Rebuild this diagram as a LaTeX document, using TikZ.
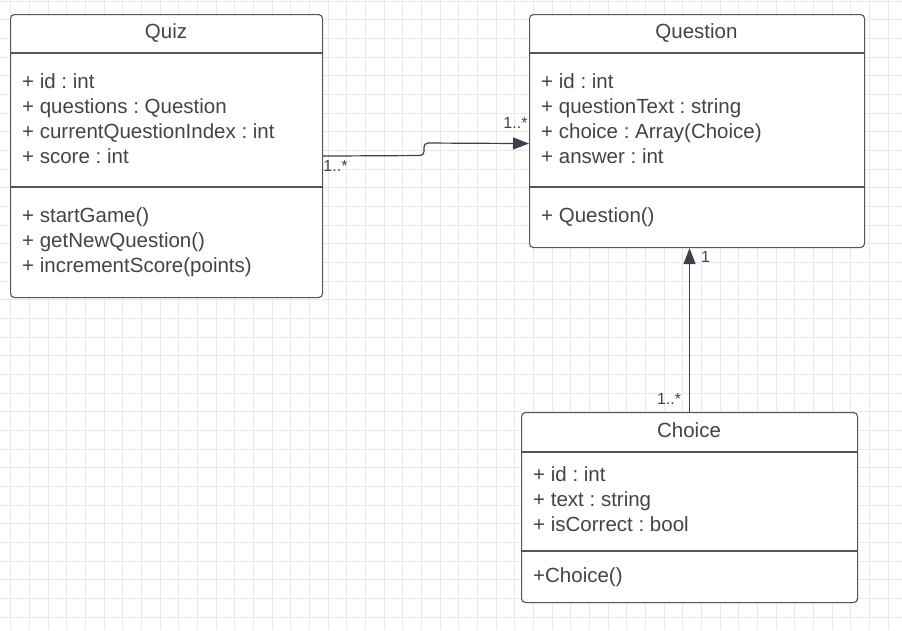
\documentclass[tikz,border=0pt]{standalone}
\usepackage{fontspec}
\setmainfont{Liberation Sans}
\frenchspacing
\usetikzlibrary{arrows.meta}
\definecolor{gridc}{HTML}{E8E8E8}
\definecolor{linec}{HTML}{50565E}
\definecolor{txtc}{HTML}{444444}
\definecolor{arrc}{HTML}{3A414A}
\begin{document}
\begin{tikzpicture}[x=1pt,y=-1pt,
  umlbox/.style={draw=linec, line width=1.1pt, rounded corners=4pt, fill=white, anchor=north west, inner sep=0pt},
  mem/.style={anchor=base west, inner sep=0pt, text=txtc, font=\fontsize{20.5}{25}\selectfont},
  ttl/.style={anchor=base, inner sep=0pt, text=txtc, font=\fontsize{20.5}{25}\selectfont},
  mult/.style={anchor=center, inner sep=0pt, text=txtc, font=\fontsize{16}{18}\selectfont},
  divider/.style={draw=linec, line width=1.1pt},
  assoc/.style={draw=arrc, line width=1.2pt, -{Triangle[length=16pt,width=12pt]}}
]
\useasboundingbox (0,0) rectangle (902,630);
\fill[white] (0,0) rectangle (902,630);
% grid
\foreach \i in {0,...,48} {
  \draw[gridc, line width=0.8pt] ({10.7+\i*18.67},0) -- ({10.7+\i*18.67},630);
}
\foreach \j in {0,...,33} {
  \draw[gridc, line width=0.8pt] (0,{1+\j*18.67}) -- (902,{1+\j*18.67});
}

% Quiz
\node[umlbox, minimum width=312pt, minimum height=283pt] (quiz) at (10,14) {};
\draw[divider] (10,53) -- (322,53);
\draw[divider] (10,187) -- (322,187);
\node[ttl] (quizt) at (166,38.5) {Quiz};
\node[mem] (q1) at (22,88) {+ id : int};
\node[mem] (q2) at (22,113) {+ questions : Question};
\node[mem] (q3) at (22,138) {+ currentQuestionIndex : int};
\node[mem] (q4) at (22,163) {+ score : int};
\node[mem] (q5) at (22,222) {+ startGame()};
\node[mem] (q6) at (22,247) {+ getNewQuestion()};
\node[mem] (q7) at (22,272) {+ incrementScore(points)};

% Question
\node[umlbox, minimum width=335pt, minimum height=233pt] (question) at (529,14) {};
\draw[divider] (529,53) -- (864,53);
\draw[divider] (529,187) -- (864,187);
\node[ttl] (questiont) at (696.5,38.5) {Question};
\node[mem] (u1) at (541,88) {+ id : int};
\node[mem] (u2) at (541,113) {+ questionText : string};
\node[mem] (u3) at (541,138) {+ choice : Array(Choice)};
\node[mem] (u4) at (541,163) {+ answer : int};
\node[mem] (u5) at (541,222) {+ Question()};

% Choice
\node[umlbox, minimum width=336pt, minimum height=190pt] (choice) at (521,412) {};
\draw[divider] (521,452) -- (857,452);
\draw[divider] (521,551) -- (857,551);
\node[ttl] (choicet) at (689,437) {Choice};
\node[mem] (c1) at (533,481) {+ id : int};
\node[mem] (c2) at (533,506) {+ text : string};
\node[mem] (c3) at (533,531) {+ isCorrect : bool};
\node[mem] (c4) at (533,582) {+Choice()};

% connectors
\coordinate (qa) at ([yshift=-12.5pt]question.west);
\draw[assoc, rounded corners=4pt] (quiz.east) -- (424,155.5) -- (424,143) -- (qa);
\draw[assoc] (choice.north) -- (choice.north |- question.south);

% multiplicities
\node[mult] (m1) at (335.5,166) {1..*};
\node[mult] (m2) at (515.5,123) {1..*};
\node[mult] (m3) at (705.5,257) {1};
\node[mult] (m4) at (669,399) {1..*};
\end{tikzpicture}
\end{document}
